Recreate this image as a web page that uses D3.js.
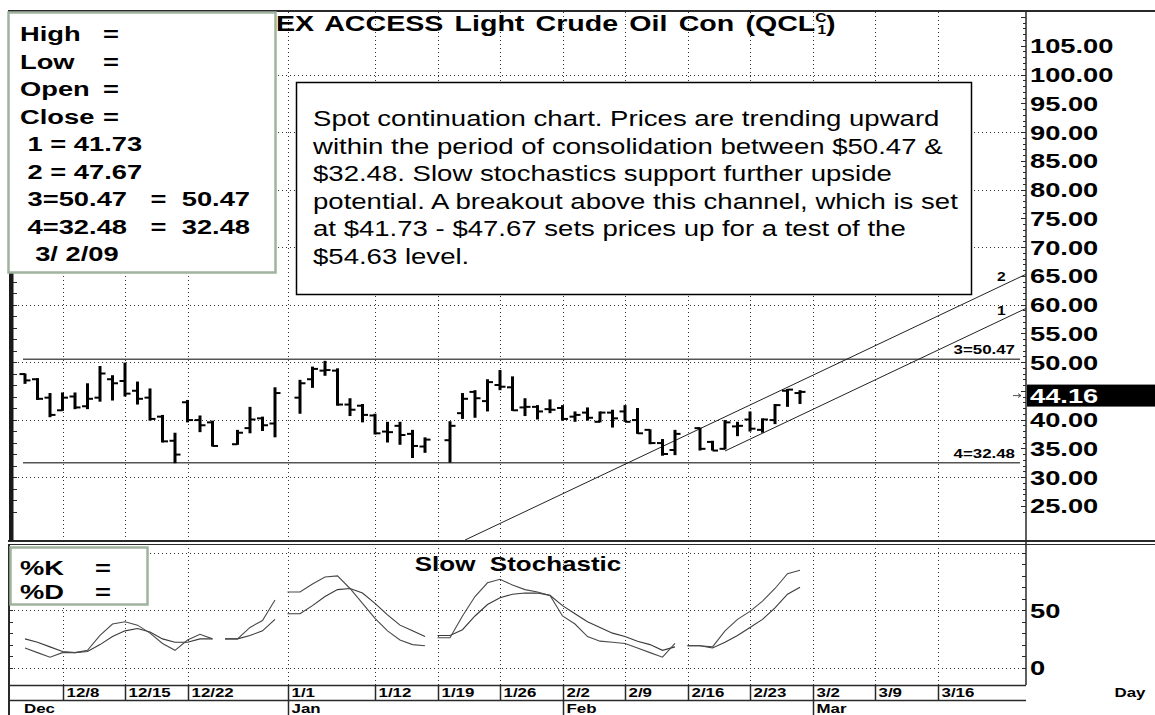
<!DOCTYPE html>
<html>
<head>
<meta charset="utf-8">
<script src="https://cdn.jsdelivr.net/npm/d3@7"></script>
<style>
body { margin: 0; background: #fff; }
svg { display: block; font-family: "Liberation Sans", Arial, sans-serif; }
</style>
</head>
<body>
<svg id="chart" width="1155" height="715"></svg>
<script>
// ---- data ----
var dates = [
  "2008-12-03","2008-12-04","2008-12-05","2008-12-08","2008-12-09","2008-12-10","2008-12-11","2008-12-12",
  "2008-12-15","2008-12-16","2008-12-17","2008-12-18","2008-12-19","2008-12-22","2008-12-23","2008-12-24",
  "2008-12-26","2008-12-29","2008-12-30","2008-12-31",
  "2009-01-02","2009-01-05","2009-01-06","2009-01-07","2009-01-08","2009-01-09","2009-01-12","2009-01-13",
  "2009-01-14","2009-01-15","2009-01-16","2009-01-20","2009-01-21","2009-01-22","2009-01-23","2009-01-26",
  "2009-01-27","2009-01-28","2009-01-29","2009-01-30",
  "2009-02-02","2009-02-03","2009-02-04","2009-02-05","2009-02-06","2009-02-09","2009-02-10","2009-02-11",
  "2009-02-12","2009-02-13","2009-02-17","2009-02-18","2009-02-19","2009-02-20","2009-02-23","2009-02-24",
  "2009-02-25","2009-02-26","2009-02-27"
];
var opens = [
  47.9,47.0,43.8,41.6,44.0,42.3,43.8,47.0,46.7,45.0,43.8,40.5,36.3,43.0,39.9,39.5,35.7,38.5,40.2,39.3,
  43.8,47.0,48.5,48.5,42.6,42.4,40.7,37.9,38.9,37.5,35.3,36.4,41.1,44.8,43.2,46.0,45.6,42.1,42.2,41.8,
  42.0,40.5,41.2,39.6,41.2,41.4,39.9,38.2,35.9,34.7,38.5,36.1,34.9,38.8,40.0,38.2,39.9,45.0,44.6
];
var highs = [
  48.0,47.2,44.6,44.7,44.7,46.3,49.3,47.7,49.9,46.6,45.4,40.8,37.7,43.4,40.7,39.8,38.2,42.2,40.5,45.6,
  46.9,49.2,50.2,48.9,43.7,42.7,41.0,39.6,39.6,38.2,36.9,39.7,44.6,45.1,47.0,48.6,47.5,43.7,42.5,43.5,
  42.5,41.4,42.1,41.4,41.7,42.5,42.0,38.3,36.6,38.2,38.6,36.3,39.9,39.6,41.4,40.2,42.7,45.3,45.1
];
var lows = [
  46.2,43.4,40.4,41.5,41.8,41.8,43.1,43.3,44.0,42.6,39.8,36.0,32.4,39.5,37.8,35.3,35.6,37.6,38.0,36.9,
  41.0,45.5,47.6,42.4,40.6,39.5,37.4,36.0,35.6,33.3,34.2,32.5,40.1,40.3,41.4,45.1,41.5,40.6,40.0,41.1,
  39.8,39.6,39.8,39.5,38.6,39.6,37.5,35.7,33.7,33.8,34.6,34.6,34.8,37.1,37.9,37.7,39.2,42.2,42.7
];
var closes = [
  46.8,43.6,40.8,43.8,42.1,43.6,48.0,46.3,44.5,43.6,40.1,36.2,33.9,39.9,39.0,35.4,37.7,40.0,39.0,44.6,
  46.3,48.8,48.6,42.6,41.7,40.8,37.6,37.8,37.3,35.4,36.5,38.9,43.6,43.7,46.5,45.7,41.6,42.2,41.4,41.7,
  40.1,40.8,40.3,41.2,40.2,39.6,37.6,35.9,34.0,37.5,34.9,34.6,39.5,38.9,38.4,40.0,42.5,45.2,44.8
];
var kValues = [
  17,13,9,13,13,15,28,38,40,37,30,21,15,24,29,25,25,35,41,59,
  66,73,79,80,69,56,43,32,24,20,19,26,45,62,74,77,72,68,66,63,
  45,38,27,23,22,21,17,13,9,21,19,18,32,42,49,58,69,82,85
];
var dValues = [
  25,22,18,14,13,14,20,27,32,34,31,25,22,22,25,25,25,28,32,42,
  47,54,62,68,69,65,56,46,37,32,27,28,33,45,55,61,64,65,65,63,
  54,47,40,35,30,27,23,20,15,18,19,17,22,28,35,42,52,64,70
];

var dayTicks = ["2008-12-08","2008-12-15","2008-12-22","2009-01-01","2009-01-12","2009-01-19","2009-01-26",
  "2009-02-02","2009-02-09","2009-02-16","2009-02-23","2009-03-02","2009-03-09","2009-03-16"];
var monthTicks = ["2009-01-01","2009-02-02","2009-03-02"];
var monthNames = ["Jan","Feb","Mar"];
var firstMonthName = "Dec";

var priceLabels = [105,100,95,90,85,80,75,70,65,60,55,50,40,35,30,25];
var priceGrid = [30,40,50,60,70,80,90,100];
var stochLabels = [50,0];
var stochGrid = [0,50,100];

var levelValues = [50.47, 32.48];
var levelNames = ["3=50.47", "4=32.48"];
var channelNames = ["1", "2"];
var channelValues = [41.73, 47.67];      // value on the legend date
var channelStarts = ["2009-02-19", null]; // null: line runs off the panel
var channelDate = "2009-03-02";
var channelSlope = 1.03;                 // $ per trading day
var lastPrice = 44.16;

var legendNames = ["High","Low","Open","Close"];
var legendLines = [" 1 = 41.73"," 2 = 47.67"," 3=50.47"," 4=32.48","  3/ 2/09"];
var legendValues = ["","","=  50.47","=  32.48",""];
var noteLines = [
  "Spot continuation chart. Prices are trending upward",
  "within the period of consolidation between $50.47 &",
  "$32.48. Slow stochastics support further upside",
  "potential. A breakout above this channel, which is set",
  "at $41.73 - $47.67 sets prices up for a test of the",
  "$54.63 level."
];

// ---- layout ----
var svg = d3.select("#chart");
var plotL = 14, plotR = 1026, priceTop = 12, priceBot = 540, stochTop = 544, stochBot = 685;
var STRETCH = 1.3;

var parse = d3.timeParse("%Y-%m-%d");
var base = parse("2008-12-08");
function slot(s) {
  var days = d3.timeDay.count(base, parse(s));
  var w = Math.floor(days / 7);
  return w * 5 + Math.min(days - w * 7, 5);
}

var x = d3.scaleLinear().domain([-3.88, 77.08]).range([plotL, plotR]);
var y = d3.scaleLinear().domain([25, 105]).range([505.75, 45.75]);
var ys = d3.scaleLinear().domain([0, 100]).range([667.5, 553]);

function addText(g, px, py, str, size, weight, anchor) {
  return g.append("text")
    .attr("transform", "translate(" + px + "," + py + ") scale(" + STRETCH + ",1)")
    .attr("font-size", size)
    .attr("font-weight", weight || "bold")
    .attr("text-anchor", anchor || "start")
    .style("white-space", "pre")
    .attr("fill", "#000")
    .text(str);
}

var defs = svg.append("defs");
defs.append("clipPath").attr("id", "clip-price")
  .append("rect").attr("x", plotL).attr("y", priceTop).attr("width", plotR - plotL).attr("height", priceBot - priceTop);
defs.append("clipPath").attr("id", "clip-stoch")
  .append("rect").attr("x", plotL).attr("y", stochTop).attr("width", plotR - plotL).attr("height", stochBot - stochTop);

// grid
var grid = svg.append("g").attr("stroke", "#333").attr("stroke-width", 1).attr("stroke-dasharray", "1,3");
grid.selectAll(".vp").data(dayTicks).enter().append("line")
  .attr("x1", function (d) { return Math.round(x(slot(d))) + 0.5; })
  .attr("x2", function (d) { return Math.round(x(slot(d))) + 0.5; })
  .attr("y1", priceTop).attr("y2", priceBot);
grid.selectAll(".vs").data(dayTicks).enter().append("line")
  .attr("x1", function (d) { return Math.round(x(slot(d))) + 0.5; })
  .attr("x2", function (d) { return Math.round(x(slot(d))) + 0.5; })
  .attr("y1", stochTop).attr("y2", stochBot);
grid.selectAll(".hp").data(priceGrid).enter().append("line")
  .attr("x1", plotL).attr("x2", plotR)
  .attr("y1", function (d) { return Math.round(y(d)) + 0.5; })
  .attr("y2", function (d) { return Math.round(y(d)) + 0.5; });
grid.selectAll(".hs").data(stochGrid).enter().append("line")
  .attr("x1", plotL).attr("x2", plotR)
  .attr("y1", function (d) { return Math.round(ys(d)) + 0.5; })
  .attr("y2", function (d) { return Math.round(ys(d)) + 0.5; });

// price panel
var price = svg.append("g").attr("clip-path", "url(#clip-price)");

price.selectAll(".level").data(levelValues).enter().append("line")
  .attr("x1", x(slot(dates[0])) - 2).attr("x2", plotR - 6)
  .attr("y1", function (d) { return y(d); }).attr("y2", function (d) { return y(d); })
  .attr("stroke", "#555").attr("stroke-width", 1.6);

var endSlot = x.domain()[1];
var bottomValue = y.invert(priceBot);
channelValues.forEach(function (v, i) {
  var c = slot(channelDate);
  var s0 = channelStarts[i] ? slot(channelStarts[i]) : c - (v - bottomValue) / channelSlope;
  price.append("line")
    .attr("x1", x(s0)).attr("y1", y(v + (s0 - c) * channelSlope))
    .attr("x2", x(endSlot)).attr("y2", y(v + (endSlot - c) * channelSlope))
    .attr("stroke", "#222").attr("stroke-width", 1);
});

var bars = price.selectAll(".bar").data(dates).enter().append("g")
  .attr("transform", function (d) { return "translate(" + x(slot(d)) + ",0)"; });
bars.append("line").attr("x1", 0).attr("x2", 0)
  .attr("y1", function (d, i) { return y(highs[i]); })
  .attr("y2", function (d, i) { return y(lows[i]); })
  .attr("stroke", "#000").attr("stroke-width", 3);
bars.append("line").attr("x1", -5.5).attr("x2", 0)
  .attr("y1", function (d, i) { return y(opens[i]); })
  .attr("y2", function (d, i) { return y(opens[i]); })
  .attr("stroke", "#000").attr("stroke-width", 2);
bars.append("line").attr("x1", 0).attr("x2", 5.5)
  .attr("y1", function (d, i) { return y(closes[i]); })
  .attr("y2", function (d, i) { return y(closes[i]); })
  .attr("stroke", "#000").attr("stroke-width", 2);

// line labels
levelValues.forEach(function (v, i) {
  addText(svg, 1015, y(v) - 5, levelNames[i], 13, "bold", "end");
});
channelValues.forEach(function (v, i) {
  var s = x.invert(1000);
  addText(svg, 997, y(v + (s - slot(channelDate)) * channelSlope) - 6, channelNames[i], 12, "bold", "start");
});

// stochastic lines
function segments(values) {
  var segs = [], cur = null, prev = null;
  dates.forEach(function (d, i) {
    var s = slot(d);
    if (prev === null || s - prev > 1) {
      cur = [];
      segs.push(cur);
      if (prev !== null) cur.push([s - 1, values[i]]);
    }
    cur.push([s, values[i]]);
    prev = s;
  });
  return segs;
}
var stochLine = d3.line().x(function (p) { return x(p[0]); }).y(function (p) { return ys(p[1]); });
var stoch = svg.append("g").attr("clip-path", "url(#clip-stoch)").attr("fill", "none");
stoch.selectAll(".d").data(segments(dValues)).enter().append("path")
  .attr("d", stochLine).attr("stroke", "#3a3a3a").attr("stroke-width", 1.1);
stoch.selectAll(".k").data(segments(kValues)).enter().append("path")
  .attr("d", stochLine).attr("stroke", "#4a4a4a").attr("stroke-width", 1.1);

// frame
var frame = svg.append("g").attr("stroke", "#2a2a2a").attr("fill", "none");
frame.append("line").attr("x1", 8).attr("x2", 1155).attr("y1", 11).attr("y2", 11).attr("stroke-width", 2);
frame.append("line").attr("x1", 8).attr("x2", 1155).attr("y1", 541).attr("y2", 541).attr("stroke-width", 2);
frame.append("line").attr("x1", 8).attr("x2", 1155).attr("y1", 544.5).attr("y2", 544.5).attr("stroke-width", 1);
svg.append("rect").attr("x", 9).attr("y", 11).attr("width", 4.5).attr("height", 530).attr("fill", "#1a1a1a");
frame.append("line").attr("x1", 9).attr("x2", 9).attr("y1", 544).attr("y2", 715).attr("stroke-width", 2);
frame.append("line").attr("x1", plotR).attr("x2", plotR).attr("y1", 11).attr("y2", stochBot).attr("stroke-width", 1.5);
frame.append("line").attr("x1", 9).attr("x2", plotR).attr("y1", stochBot + 0.5).attr("y2", stochBot + 0.5).attr("stroke-width", 1.5);
frame.append("line").attr("x1", 9).attr("x2", plotR).attr("y1", 700.5).attr("y2", 700.5).attr("stroke-width", 1.5);

// small ticks on the left edge of both panels
frame.selectAll(".lt").data(d3.range(24, 111, 2)).enter().append("line")
  .attr("x1", 13).attr("x2", 17)
  .attr("y1", function (d) { return Math.round(y(d)) + 0.5; })
  .attr("y2", function (d) { return Math.round(y(d)) + 0.5; })
  .attr("stroke-width", 1);
frame.selectAll(".ls").data(d3.range(0, 101, 10)).enter().append("line")
  .attr("x1", 9).attr("x2", 13)
  .attr("y1", function (d) { return Math.round(ys(d)) + 0.5; })
  .attr("y2", function (d) { return Math.round(ys(d)) + 0.5; })
  .attr("stroke-width", 1);

// right axis ticks
var pTicks = d3.range(24, 111, 1);
frame.selectAll(".pt").data(pTicks).enter().append("line")
  .attr("x1", function (d) { return plotR - (d % 5 === 0 ? 5 : 3); }).attr("x2", plotR)
  .attr("y1", function (d) { return Math.round(y(d)) + 0.5; })
  .attr("y2", function (d) { return Math.round(y(d)) + 0.5; })
  .attr("stroke-width", 1);
frame.selectAll(".st").data(d3.range(0, 101, 10)).enter().append("line")
  .attr("x1", plotR - 4).attr("x2", plotR)
  .attr("y1", function (d) { return Math.round(ys(d)) + 0.5; })
  .attr("y2", function (d) { return Math.round(ys(d)) + 0.5; })
  .attr("stroke-width", 1);

// price labels
priceLabels.forEach(function (v) {
  addText(svg, 1030, y(v) + 7.5, d3.format(".2f")(v), 21, "bold", "start");
});
stochLabels.forEach(function (v) {
  addText(svg, 1030, ys(v) + 7.5, String(v), 21, "bold", "start");
});

// last price marker
svg.append("rect").attr("x", plotR + 1).attr("y", y(lastPrice) - 11).attr("width", 1155 - plotR - 1).attr("height", 22).attr("fill", "#000");
addText(svg, 1030, y(lastPrice) + 7.5, d3.format(".2f")(lastPrice), 21, "bold", "start").attr("fill", "#fff");
svg.append("path")
  .attr("d", "M1013," + y(lastPrice) + "H1021M1018," + (y(lastPrice) - 2) + "L1021," + y(lastPrice) + "L1018," + (y(lastPrice) + 2))
  .attr("stroke", "#555").attr("fill", "none");

// date axis
var dateG = svg.append("g");
dayTicks.forEach(function (d) {
  var px = Math.round(x(slot(d))) + 0.5;
  dateG.append("line").attr("x1", px).attr("x2", px).attr("y1", stochBot).attr("y2", 700)
    .attr("stroke", "#2a2a2a").attr("stroke-width", 1.5);
  addText(dateG, px + 3, 697, d3.timeFormat("%-m/%-d")(parse(d)), 13, "bold", "start");
});
monthTicks.forEach(function (d, i) {
  var px = Math.round(x(slot(d))) + 0.5;
  dateG.append("line").attr("x1", px).attr("x2", px).attr("y1", 700).attr("y2", 715)
    .attr("stroke", "#2a2a2a").attr("stroke-width", 1.5);
  addText(dateG, px + 3, 713, monthNames[i], 13, "bold", "start");
});
addText(dateG, 24, 713, firstMonthName, 13, "bold", "start");
addText(dateG, 1130, 697, "Day", 13, "bold", "middle");

// title
var title = svg.append("text")
  .attr("font-size", 22).attr("font-weight", "bold").attr("word-spacing", 2.5).style("white-space", "pre");
title.append("tspan").text("NYMEX ACCESS Light Crude Oil Con (QCL");
title.append("tspan").attr("font-size", 12).attr("dy", -9).text("C");
title.append("tspan").attr("font-size", 12).attr("dx", -7).attr("dy", 12).text("1");
title.append("tspan").attr("dy", -3).text(")");
var hidden = title.node().getSubStringLength(0, 3) * STRETCH;
title.attr("transform", "translate(" + (276 - hidden) + ",31) scale(" + STRETCH + ",1)");

// stochastic title
addText(svg, 518, 571, "Slow  Stochastic", 20, "bold", "middle");

// legend box
var legend = svg.append("g");
legend.append("rect").attr("x", 8.5).attr("y", 12.5).attr("width", 267).attr("height", 260)
  .attr("fill", "#fff").attr("stroke", "#9fb39f").attr("stroke-width", 2.5);
legendNames.forEach(function (t, i) {
  addText(legend, 20, 41 + i * 27.5, t, 21, "bold", "start");
  addText(legend, 103, 41 + i * 27.5, "=", 21, "bold", "start");
});
legendLines.forEach(function (t, i) {
  addText(legend, 20, 41 + (i + 4) * 27.5, t, 21, "bold", "start");
  if (legendValues[i]) addText(legend, 250, 41 + (i + 4) * 27.5, legendValues[i], 21, "bold", "end");
});

// note box
var note = svg.append("g");
note.append("rect").attr("x", 296.5).attr("y", 82.5).attr("width", 675).attr("height", 212)
  .attr("fill", "#fff").attr("stroke", "#000").attr("stroke-width", 1.5);
noteLines.forEach(function (t, i) {
  addText(note, 313, 126 + i * 27.5, t, 21.2, "normal", "start");
});

// stochastic legend box
var sLegend = svg.append("g");
sLegend.append("rect").attr("x", 10.5).attr("y", 547.5).attr("width", 137).attr("height", 57)
  .attr("fill", "#fff").attr("stroke", "#9fb39f").attr("stroke-width", 2.5);
["%K", "%D"].forEach(function (t, i) {
  addText(sLegend, 20, 575 + i * 24, t, 21, "bold", "start");
  addText(sLegend, 95, 575 + i * 24, "=", 21, "bold", "start");
});
</script>
</body>
</html>
